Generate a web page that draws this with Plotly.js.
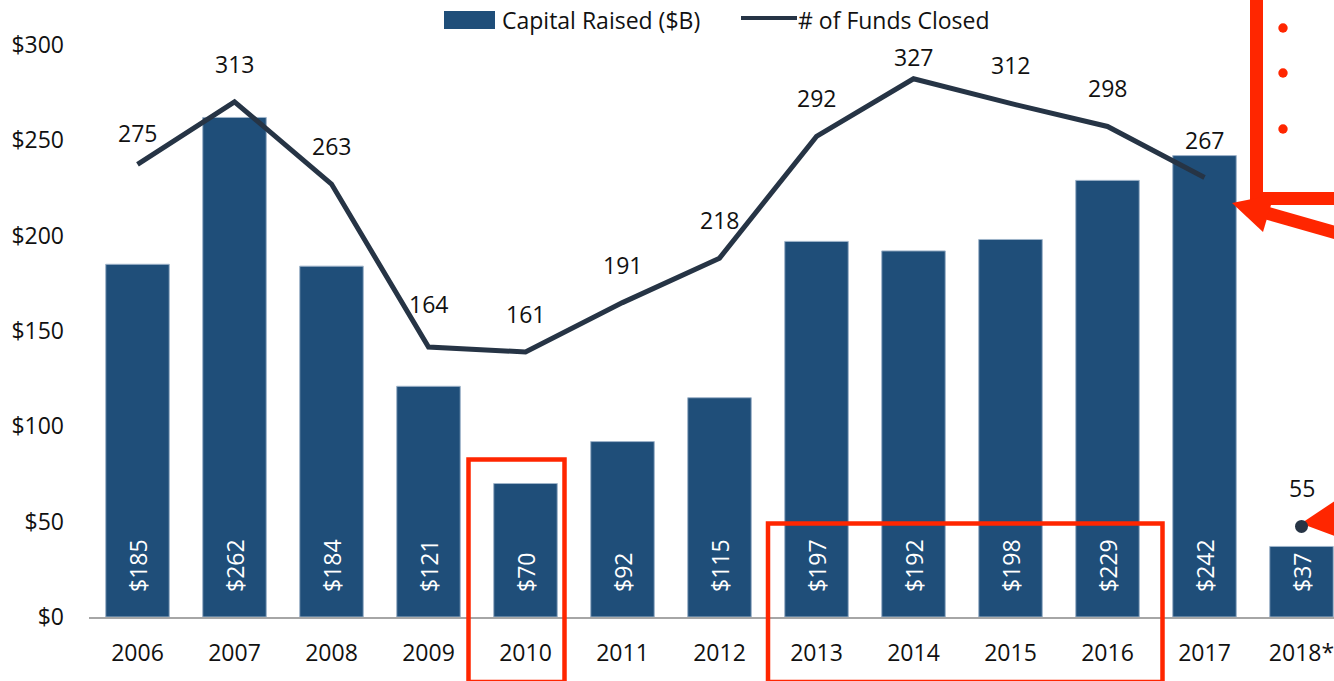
<!DOCTYPE html>
<html><head><meta charset="utf-8">
<script src="https://cdn.plot.ly/plotly-3.0.1.min.js"></script>
<style>html,body{margin:0;padding:0;background:#fff;overflow:hidden}#chart{width:1334px;height:681px}</style>
</head><body><div id="chart"></div>
<script>
// ---- data ----
const years = ['2006','2007','2008','2009','2010','2011','2012','2013','2014','2015','2016','2017','2018*'];
const capitalRaised = [185,262,184,121,70,92,115,197,192,198,229,242,37];
const fundsClosed = [275,313,263,164,161,191,218,292,327,312,298,267,55];
const yTicks = [0,50,100,150,200,250,300];
const seriesNames = ['Capital Raised ($B)', '# of Funds Closed'];

// ---- style ----
const W = 1334, H = 681, L = 89, R = 0, T = 45, B = 64;
const barColor = '#1F4E79', lineColor = '#263445', red = '#FF2600';
const FONT = 'Open Sans, sans-serif', FS = 23;
const px = x => (x - L) / (W - L - R);
const py = y => (H - B - y) / (H - T - B);
const labelNudge = {'2006': -7, '2009': 5, '2014': -16};

const nLine = years.length - 1;
const traces = [
  {type: 'bar', x: years, y: capitalRaised, width: 0.655,
   marker: {color: barColor, line: {color: '#9fb4ca', width: 1}},
   hoverinfo: 'skip', showlegend: false},
  {type: 'scatter', mode: 'lines', x: years.slice(0, nLine), y: fundsClosed.slice(0, nLine), yaxis: 'y2',
   line: {color: lineColor, width: 5}, hoverinfo: 'skip', showlegend: false},
  {type: 'scatter', mode: 'markers', x: years.slice(nLine), y: fundsClosed.slice(nLine), yaxis: 'y2',
   marker: {color: lineColor, size: 13}, hoverinfo: 'skip', showlegend: false}
];

const annotations = [];
years.forEach((yr, i) => {
  // category index i = position of years[i] on the category axis
  annotations.push({x: i, y: 0, xref: 'x', yref: 'y', text: '$' + capitalRaised[i], textangle: -90,
    yanchor: 'bottom', xanchor: 'center', yshift: 23, showarrow: false,
    font: {family: FONT, size: FS, color: '#ffffff'}});
  annotations.push({x: i, y: fundsClosed[i], xref: 'x', yref: 'y2', text: String(fundsClosed[i]),
    yanchor: 'middle', xanchor: 'center', yshift: 38 + (labelNudge[yr] || 0), showarrow: false,
    font: {family: FONT, size: FS, color: '#111111'}});
});
// custom legend text
annotations.push({x: px(500), y: py(20), xref: 'paper', yref: 'paper', xanchor: 'left', yanchor: 'middle',
  text: seriesNames[0], showarrow: false, font: {family: FONT, size: FS, color: '#111111'}});
annotations.push({x: px(796), y: py(20), xref: 'paper', yref: 'paper', xanchor: 'left', yanchor: 'middle',
  text: seriesNames[1], showarrow: false, font: {family: FONT, size: FS, color: '#111111'}});

const P = (pts) => 'M' + pts.map(p => px(p[0]) + ',' + py(p[1])).join(' L') + ' Z';
const shapes = [
  // legend symbols
  {type: 'rect', xref: 'paper', yref: 'paper', x0: px(444), x1: px(495), y0: py(11), y1: py(29),
   fillcolor: barColor, line: {width: 0}},
  {type: 'line', xref: 'paper', yref: 'paper', x0: px(741), x1: px(797), y0: py(18), y1: py(18),
   line: {color: lineColor, width: 4}},
  // red highlight boxes
  {type: 'rect', xref: 'paper', yref: 'paper', x0: px(468.5), x1: px(564.5), y0: py(682), y1: py(459.5),
   line: {color: red, width: 4.5}},
  {type: 'rect', xref: 'paper', yref: 'paper', x0: px(768), x1: px(1162.5), y0: py(682), y1: py(523.5),
   line: {color: red, width: 4.5}},
  // red bracket line
  {type: 'path', xref: 'paper', yref: 'paper',
   path: 'M' + px(1256.5) + ',' + py(-10) + ' L' + px(1256.5) + ',' + py(198.5) + ' L' + px(1345) + ',' + py(198.5),
   line: {color: red, width: 13}},
  // red dots
  ...[28, 73, 129].map(cy => ({type: 'circle', xref: 'paper', yref: 'paper',
    x0: px(1278.3), x1: px(1287.7), y0: py(cy + 4.7), y1: py(cy - 4.7), fillcolor: red, line: {width: 0}})),
  // arrow to 2017
  {type: 'line', xref: 'paper', yref: 'paper', x0: px(1262), y0: py(211.7), x1: px(1345), y1: py(235.3),
   line: {color: red, width: 13}},
  {type: 'path', xref: 'paper', yref: 'paper', path: P([[1232, 203], [1263, 232], [1274, 194.6]]),
   fillcolor: red, line: {width: 0}},
  // arrow to 2018
  {type: 'path', xref: 'paper', yref: 'paper', layer: 'below', path: P([[1301, 523.5], [1340, 497.5], [1340, 538]]),
   fillcolor: red, line: {width: 0}}
];

const layout = {
  width: W, height: H, autosize: false,
  margin: {l: L, r: R, t: T, b: B, pad: 0},
  paper_bgcolor: '#ffffff', plot_bgcolor: 'rgba(0,0,0,0)',
  font: {family: FONT, size: FS, color: '#111111'},
  showlegend: false, bargap: 0.345,
  xaxis: {type: 'category', range: [-0.5, 12.335], showgrid: false, zeroline: false,
    showline: true, linecolor: '#a6a6a6', linewidth: 2, ticks: '', ticklabelstandoff: 14,
    tickfont: {family: FONT, size: FS, color: '#111111'}, fixedrange: true},
  yaxis: {range: [0, 300], tickvals: yTicks, ticktext: yTicks.map(v => '$' + v),
    showgrid: false, zeroline: false, showline: false, ticks: '', ticklabelstandoff: 24,
    tickfont: {family: FONT, size: FS, color: '#111111'}, fixedrange: true},
  yaxis2: {overlaying: 'y', side: 'right', range: [0, 347.5], showgrid: false, zeroline: false,
    showline: false, showticklabels: false, ticks: '', fixedrange: true},
  annotations: annotations,
  shapes: shapes
};

Plotly.newPlot('chart', traces, layout, {displayModeBar: false, staticPlot: true});
</script>
</body></html>
